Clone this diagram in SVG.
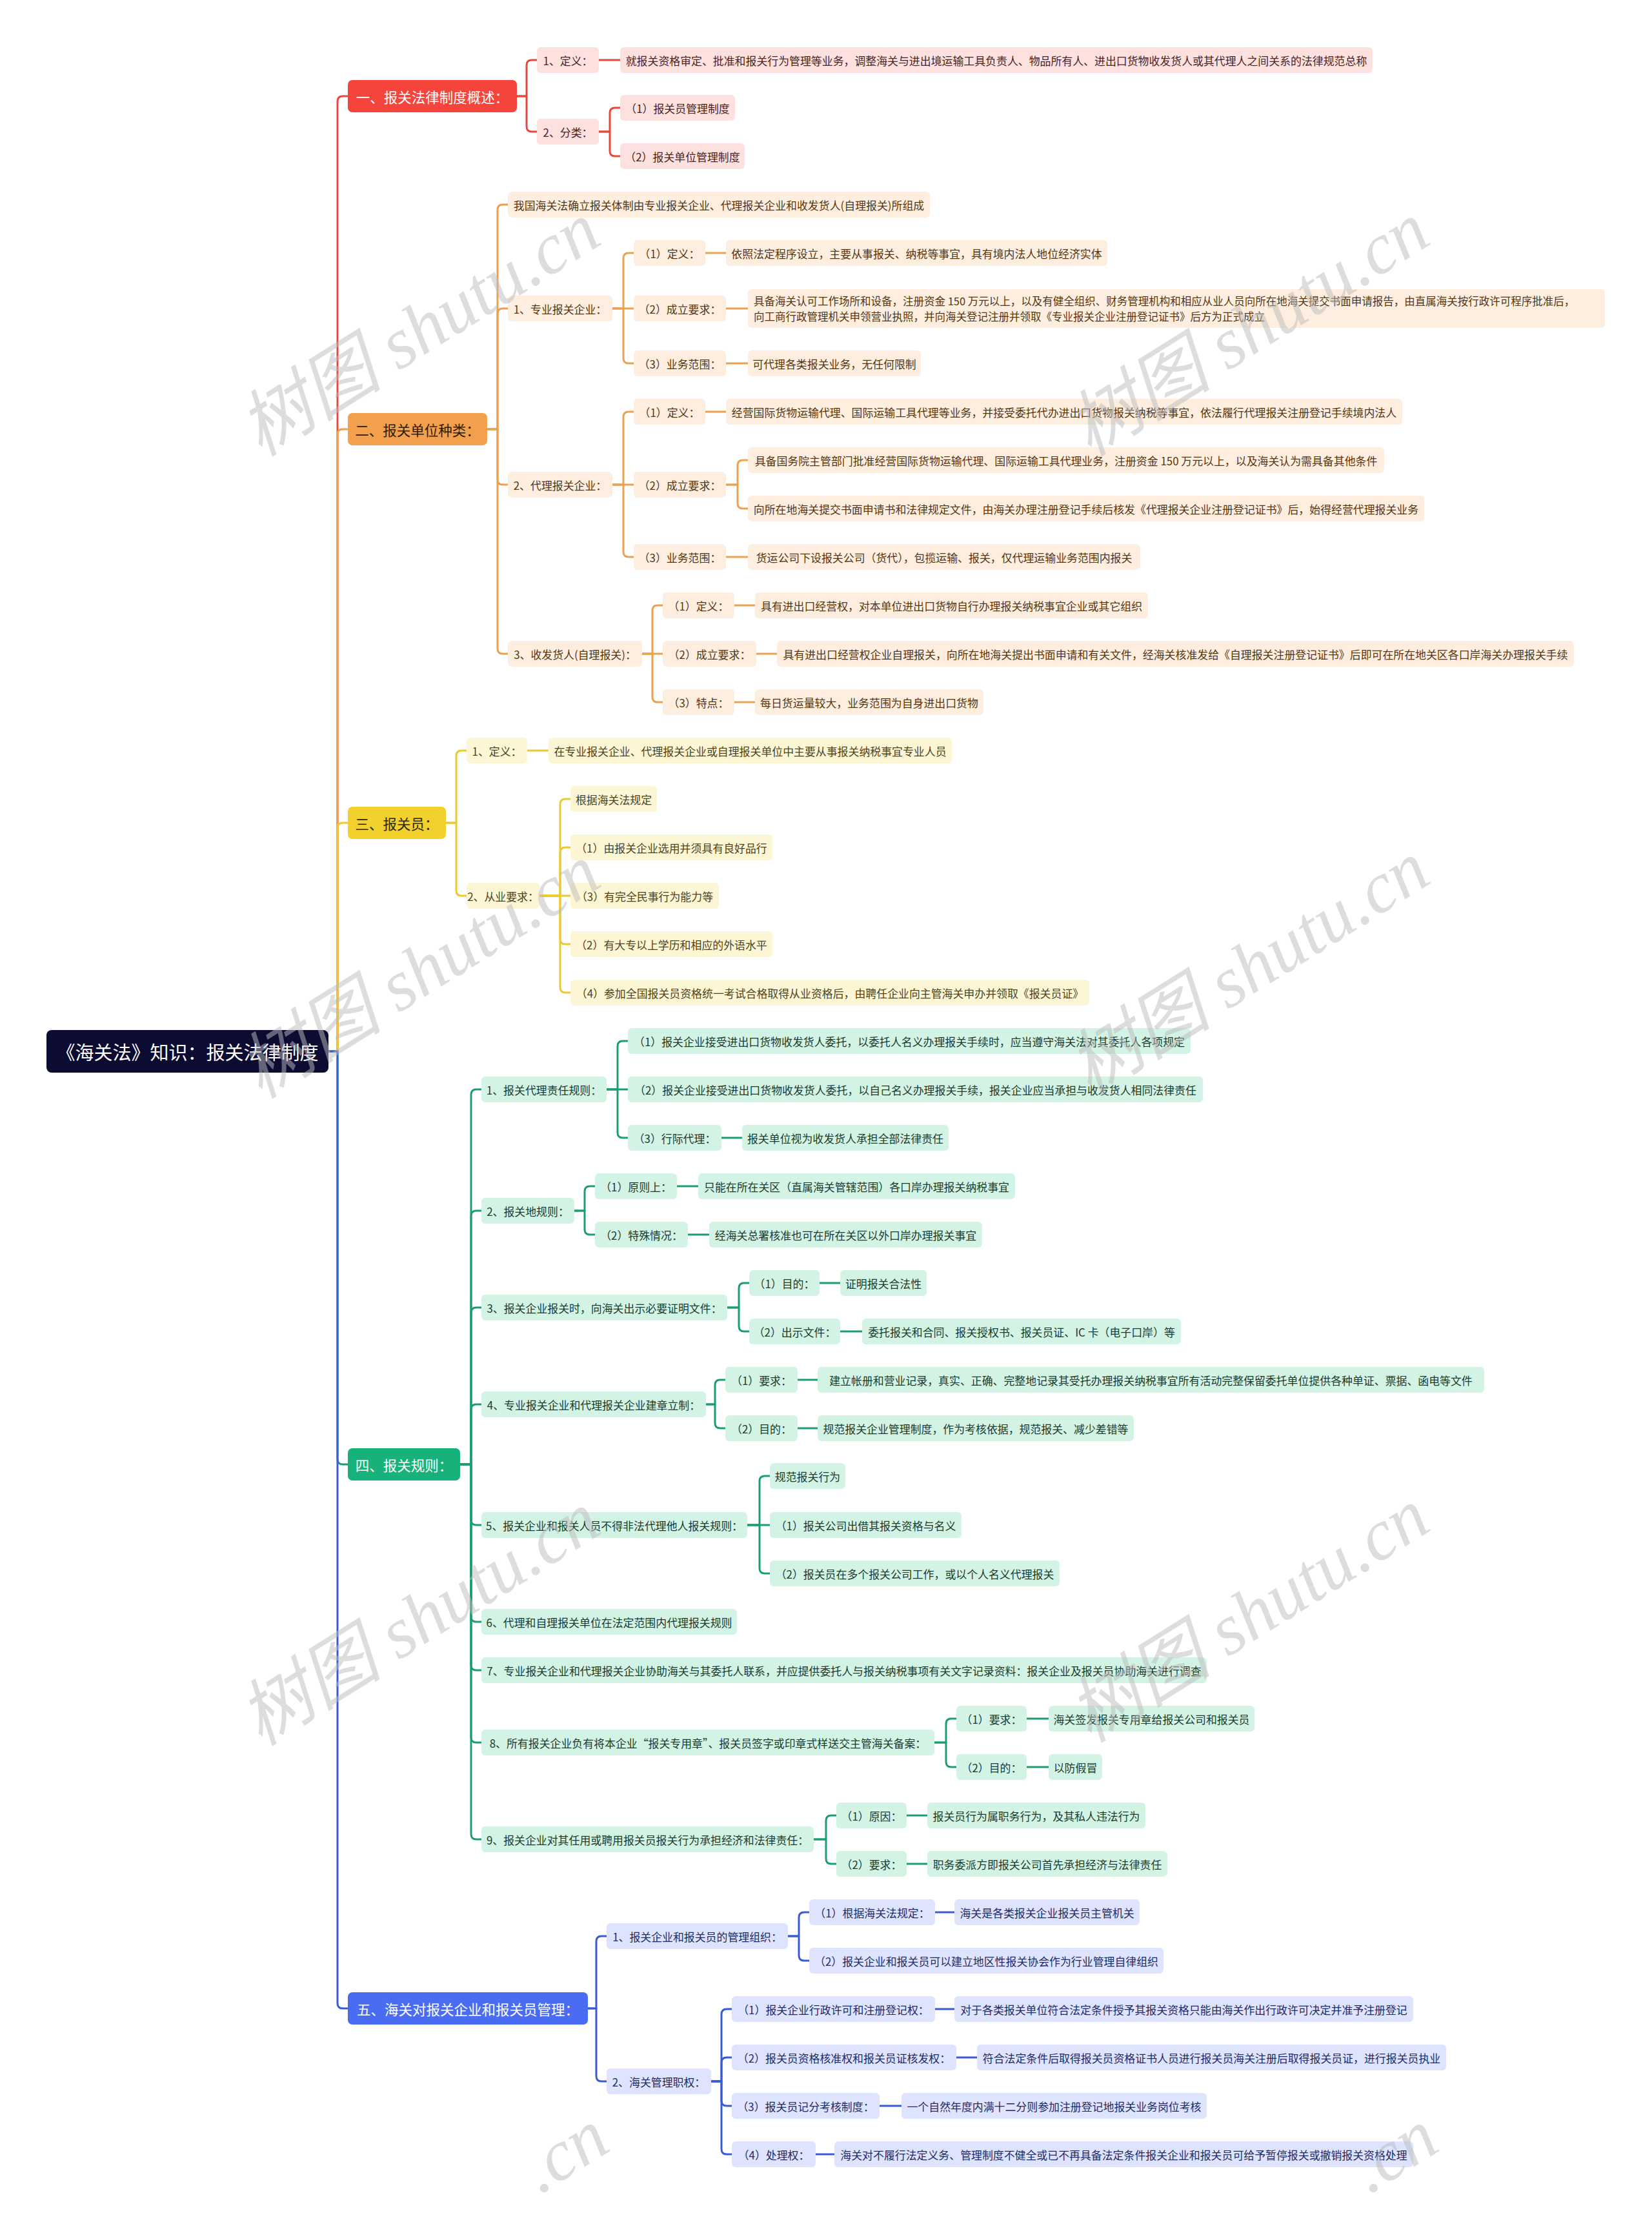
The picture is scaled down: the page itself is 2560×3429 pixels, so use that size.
<svg xmlns="http://www.w3.org/2000/svg" width="2560" height="3429" viewBox="0 0 2560 3429">
<style>
text{font-family:"Noto Sans CJK SC","Noto Sans",sans-serif;dominant-baseline:central;text-anchor:middle}
.t{font-size:16.9px}
.l1{font-size:21.5px}
.root{font-size:29px;fill:#ffffff}
.c{fill:none;stroke-width:3;stroke-linecap:round;stroke-linejoin:round}
.cr{stroke:#e8483e}.co{stroke:#eaa151}.cy{stroke:#ebc92f}.cg{stroke:#1c9f6e}.cb{stroke:#3a5ad6}
.rf{fill:#fde1df}.of{fill:#fdeedf}.yf{fill:#fdf6d5}.gf{fill:#d3f3e5}.bf{fill:#dee4fd}
.rt{fill:#4a2424}.ot{fill:#553612}.yt{fill:#4d431c}.gt{fill:#1b3b2e}.bt{fill:#1f2a66}
.wm{font-size:112px;fill:#bdbdbd;opacity:0.5;font-family:"Liberation Serif","Noto Sans CJK SC",serif;font-style:italic}
</style>
<rect x="0" y="0" width="2560" height="3429" fill="#ffffff"/>

<g id="connectors">
<path class="c cr" d="M509 1629 H523 V157 Q523 149 531 149 H539"/>
<path class="c co" d="M509 1629 H523 V673 Q523 665 531 665 H539"/>
<path class="c cy" d="M509 1629 H523 V1283 Q523 1275 531 1275 H539"/>
<path class="c cg" d="M509 1629 H523 V2261 Q523 2269 531 2269 H539"/>
<path class="c cb" d="M509 1629 H523 V3104 Q523 3112 531 3112 H539"/>

<path class="c cr" d="M801 149 H816 V101 Q816 93 824 93 H832"/>
<path class="c cr" d="M801 149 H816 V196 Q816 204 824 204 H832"/>
<path class="c cr" d="M928 93 H961"/>
<path class="c cr" d="M928 204 H945 V175 Q945 167 953 167 H961"/>
<path class="c cr" d="M928 204 H945 V234 Q945 242 953 242 H961"/>

<path class="c co" d="M755 665 H771 V325 Q771 317 779 317 H787"/>
<path class="c co" d="M755 665 H771 V486 Q771 478 779 478 H787"/>
<path class="c co" d="M755 665 H771 V743 Q771 751 779 751 H787"/>
<path class="c co" d="M755 665 H771 V1005 Q771 1013 779 1013 H787"/>
<path class="c co" d="M949 478 H966 V400 Q966 392 974 392 H982"/>
<path class="c co" d="M949 478 H982"/>
<path class="c co" d="M949 478 H966 V555 Q966 563 974 563 H982"/>
<path class="c co" d="M1093 392 H1125"/>
<path class="c co" d="M1125 478 H1159"/>
<path class="c co" d="M1125 563 H1159"/>
<path class="c co" d="M949 751 H966 V646 Q966 638 974 638 H982"/>
<path class="c co" d="M949 751 H982"/>
<path class="c co" d="M949 751 H966 V855 Q966 863 974 863 H982"/>
<path class="c co" d="M1093 638 H1125"/>
<path class="c co" d="M1125 751 H1143 V721 Q1143 713 1151 713 H1159"/>
<path class="c co" d="M1125 751 H1143 V780 Q1143 788 1151 788 H1159"/>
<path class="c co" d="M1125 863 H1159"/>
<path class="c co" d="M995 1013 H1011 V946 Q1011 938 1019 938 H1027"/>
<path class="c co" d="M995 1013 H1027"/>
<path class="c co" d="M995 1013 H1011 V1080 Q1011 1088 1019 1088 H1027"/>
<path class="c co" d="M1138 938 H1170"/>
<path class="c co" d="M1172 1013 H1204"/>
<path class="c co" d="M1138 1088 H1170"/>

<path class="c cy" d="M691 1275 H707 V1171 Q707 1163 715 1163 H723"/>
<path class="c cy" d="M691 1275 H707 V1380 Q707 1388 715 1388 H723"/>
<path class="c cy" d="M817 1163 H850"/>
<path class="c cy" d="M836 1388 H868 V1246 Q868 1238 876 1238 H884"/>
<path class="c cy" d="M836 1388 H868 V1321 Q868 1313 876 1313 H884"/>
<path class="c cy" d="M836 1388 H884"/>
<path class="c cy" d="M836 1388 H868 V1455 Q868 1463 876 1463 H884"/>
<path class="c cy" d="M836 1388 H868 V1530 Q868 1538 876 1538 H884"/>

<path class="c cg" d="M713 2269 H730 V1696 Q730 1688 738 1688 H746"/>
<path class="c cg" d="M713 2269 H730 V1884 Q730 1876 738 1876 H746"/>
<path class="c cg" d="M713 2269 H730 V2034 Q730 2026 738 2026 H746"/>
<path class="c cg" d="M713 2269 H730 V2184 Q730 2176 738 2176 H746"/>
<path class="c cg" d="M713 2269 H730 V2355 Q730 2363 738 2363 H746"/>
<path class="c cg" d="M713 2269 H730 V2505 Q730 2513 738 2513 H746"/>
<path class="c cg" d="M713 2269 H730 V2580 Q730 2588 738 2588 H746"/>
<path class="c cg" d="M713 2269 H730 V2692 Q730 2700 738 2700 H746"/>
<path class="c cg" d="M713 2269 H730 V2842 Q730 2850 738 2850 H746"/>
<path class="c cg" d="M940 1688 H957 V1621 Q957 1613 965 1613 H973"/>
<path class="c cg" d="M940 1688 H973"/>
<path class="c cg" d="M940 1688 H957 V1755 Q957 1763 965 1763 H973"/>
<path class="c cg" d="M1118 1763 H1150"/>
<path class="c cg" d="M890 1876 H906 V1846 Q906 1838 914 1838 H922"/>
<path class="c cg" d="M890 1876 H906 V1905 Q906 1913 914 1913 H922"/>
<path class="c cg" d="M1049 1838 H1082"/>
<path class="c cg" d="M1066 1913 H1099"/>
<path class="c cg" d="M1127 2026 H1145 V1996 Q1145 1988 1153 1988 H1161"/>
<path class="c cg" d="M1127 2026 H1145 V2055 Q1145 2063 1153 2063 H1161"/>
<path class="c cg" d="M1270 1988 H1302"/>
<path class="c cg" d="M1302 2063 H1336"/>
<path class="c cg" d="M1094 2176 H1108 V2146 Q1108 2138 1116 2138 H1124"/>
<path class="c cg" d="M1094 2176 H1108 V2205 Q1108 2213 1116 2213 H1124"/>
<path class="c cg" d="M1236 2138 H1267"/>
<path class="c cg" d="M1236 2213 H1267"/>
<path class="c cg" d="M1158 2363 H1177 V2295 Q1177 2287 1185 2287 H1193"/>
<path class="c cg" d="M1158 2363 H1193"/>
<path class="c cg" d="M1158 2363 H1177 V2430 Q1177 2438 1185 2438 H1193"/>
<path class="c cg" d="M1448 2700 H1466 V2671 Q1466 2663 1474 2663 H1482"/>
<path class="c cg" d="M1448 2700 H1466 V2730 Q1466 2738 1474 2738 H1482"/>
<path class="c cg" d="M1591 2663 H1625"/>
<path class="c cg" d="M1591 2738 H1625"/>
<path class="c cg" d="M1261 2850 H1280 V2821 Q1280 2813 1288 2813 H1296"/>
<path class="c cg" d="M1261 2850 H1280 V2880 Q1280 2888 1288 2888 H1296"/>
<path class="c cg" d="M1405 2813 H1437"/>
<path class="c cg" d="M1405 2888 H1437"/>

<path class="c cb" d="M911 3112 H924 V3008 Q924 3000 932 3000 H940"/>
<path class="c cb" d="M911 3112 H924 V3217 Q924 3225 932 3225 H940"/>
<path class="c cb" d="M1221 3000 H1238 V2971 Q1238 2963 1246 2963 H1254"/>
<path class="c cb" d="M1221 3000 H1238 V3030 Q1238 3038 1246 3038 H1254"/>
<path class="c cb" d="M1449 2963 H1479"/>
<path class="c cb" d="M1102 3225 H1118 V3121 Q1118 3113 1126 3113 H1134"/>
<path class="c cb" d="M1102 3225 H1118 V3196 Q1118 3188 1126 3188 H1134"/>
<path class="c cb" d="M1102 3225 H1118 V3255 Q1118 3263 1126 3263 H1134"/>
<path class="c cb" d="M1102 3225 H1118 V3330 Q1118 3338 1126 3338 H1134"/>
<path class="c cb" d="M1449 3113 H1479"/>
<path class="c cb" d="M1482 3188 H1514"/>
<path class="c cb" d="M1363 3263 H1397"/>
<path class="c cb" d="M1264 3338 H1293"/>
</g>

<g id="root"><rect x="72" y="1596" width="437" height="66" rx="8" fill="#0c0b32"/><text class="root" x="290.5" y="1629">《海关法》知识：报关法律制度</text></g>

<g id="R1"><rect x="539" y="124" width="262" height="50" rx="7" fill="#f4443c"/><text class="l1" x="670" y="149" fill="#ffffff">一、报关法律制度概述：</text></g>
<g id="R2"><rect x="539" y="640" width="216" height="50" rx="7" fill="#f2a04b"/><text class="l1" x="647" y="665" fill="#2e1c08">二、报关单位种类：</text></g>
<g id="R3"><rect x="539" y="1250" width="152" height="50" rx="7" fill="#f3d12c"/><text class="l1" x="615" y="1275" fill="#2e2708">三、报关员：</text></g>
<g id="R4"><rect x="539" y="2244" width="174" height="50" rx="7" fill="#17b27a"/><text class="l1" x="626" y="2269" fill="#ffffff">四、报关规则：</text></g>
<g id="R5"><rect x="539" y="3087" width="372" height="50" rx="7" fill="#4a6cf3"/><text class="l1" x="725" y="3112" fill="#ffffff">五、海关对报关企业和报关员管理：</text></g>

<g id="A1"><rect class="rf" x="832" y="73" width="96" height="40" rx="6"/><text class="t rt" x="880" y="93">1、定义：</text></g>
<g id="A1t"><rect class="rf" x="961" y="73" width="1166" height="40" rx="6"/><text class="t rt" x="1544" y="93">就报关资格审定、批准和报关行为管理等业务，调整海关与进出境运输工具负责人、物品所有人、进出口货物收发货人或其代理人之间关系的法律规范总称</text></g>
<g id="A2"><rect class="rf" x="832" y="184" width="96" height="40" rx="6"/><text class="t rt" x="880" y="204">2、分类：</text></g>
<g id="A2a"><rect class="rf" x="961" y="147" width="178" height="40" rx="6"/><text class="t rt" x="1050" y="167">（1）报关员管理制度</text></g>
<g id="A2b"><rect class="rf" x="961" y="222" width="193" height="40" rx="6"/><text class="t rt" x="1057.5" y="242">（2）报关单位管理制度</text></g>

<g id="B0"><rect class="of" x="787" y="297" width="654" height="40" rx="6"/><text class="t ot" x="1114" y="317">我国海关法确立报关体制由专业报关企业、代理报关企业和收发货人(自理报关)所组成</text></g>
<g id="B1"><rect class="of" x="787" y="458" width="162" height="40" rx="6"/><text class="t ot" x="868" y="478">1、专业报关企业：</text></g>
<g id="B1a"><rect class="of" x="982" y="372" width="111" height="40" rx="6"/><text class="t ot" x="1037.5" y="392">（1）定义：</text></g>
<g id="B1at"><rect class="of" x="1125" y="372" width="591" height="40" rx="6"/><text class="t ot" x="1420.5" y="392">依照法定程序设立，主要从事报关、纳税等事宜，具有境内法人地位经济实体</text></g>
<g id="B1b"><rect class="of" x="982" y="458" width="143" height="40" rx="6"/><text class="t ot" x="1053.5" y="478">（2）成立要求：</text></g>
<g id="B1bt"><rect class="of" x="1159" y="448" width="1328" height="60" rx="6"/><text class="ot" style="font-size:16.5px;text-anchor:start" x="1168" y="466">具备海关认可工作场所和设备，注册资金 150 万元以上，以及有健全组织、财务管理机构和相应从业人员向所在地海关提交书面申请报告，由直属海关按行政许可程序批准后，</text><text class="ot" style="font-size:16.5px;text-anchor:start" x="1168" y="490">向工商行政管理机关申领营业执照，并向海关登记注册并领取《专业报关企业注册登记证书》后方为正式成立</text></g>
<g id="B1c"><rect class="of" x="982" y="543" width="143" height="40" rx="6"/><text class="t ot" x="1053.5" y="563">（3）业务范围：</text></g>
<g id="B1ct"><rect class="of" x="1159" y="543" width="268" height="40" rx="6"/><text class="t ot" x="1293" y="563">可代理各类报关业务，无任何限制</text></g>
<g id="B2"><rect class="of" x="787" y="731" width="162" height="40" rx="6"/><text class="t ot" x="868" y="751">2、代理报关企业：</text></g>
<g id="B2a"><rect class="of" x="982" y="618" width="111" height="40" rx="6"/><text class="t ot" x="1037.5" y="638">（1）定义：</text></g>
<g id="B2at"><rect class="of" x="1125" y="618" width="1048" height="40" rx="6"/><text class="t ot" x="1649" y="638">经营国际货物运输代理、国际运输工具代理等业务，并接受委托代办进出口货物报关纳税等事宜，依法履行代理报关注册登记手续境内法人</text></g>
<g id="B2b"><rect class="of" x="982" y="731" width="143" height="40" rx="6"/><text class="t ot" x="1053.5" y="751">（2）成立要求：</text></g>
<g id="B2b1"><rect class="of" x="1159" y="693" width="986" height="40" rx="6"/><text class="t ot" x="1652" y="713">具备国务院主管部门批准经营国际货物运输代理、国际运输工具代理业务，注册资金 150 万元以上，以及海关认为需具备其他条件</text></g>
<g id="B2b2"><rect class="of" x="1159" y="768" width="1048" height="40" rx="6"/><text class="t ot" x="1683" y="788">向所在地海关提交书面申请书和法律规定文件，由海关办理注册登记手续后核发《代理报关企业注册登记证书》后，始得经营代理报关业务</text></g>
<g id="B2c"><rect class="of" x="982" y="843" width="143" height="40" rx="6"/><text class="t ot" x="1053.5" y="863">（3）业务范围：</text></g>
<g id="B2ct"><rect class="of" x="1159" y="843" width="608" height="40" rx="6"/><text class="t ot" x="1463" y="863">货运公司下设报关公司（货代），包揽运输、报关，仅代理运输业务范围内报关</text></g>
<g id="B3"><rect class="of" x="787" y="993" width="208" height="40" rx="6"/><text class="t ot" x="891" y="1013">3、收发货人(自理报关)：</text></g>
<g id="B3a"><rect class="of" x="1027" y="918" width="111" height="40" rx="6"/><text class="t ot" x="1082.5" y="938">（1）定义：</text></g>
<g id="B3at"><rect class="of" x="1170" y="918" width="609" height="40" rx="6"/><text class="t ot" x="1474.5" y="938">具有进出口经营权，对本单位进出口货物自行办理报关纳税事宜企业或其它组织</text></g>
<g id="B3b"><rect class="of" x="1027" y="993" width="145" height="40" rx="6"/><text class="t ot" x="1099.5" y="1013">（2）成立要求：</text></g>
<g id="B3bt"><rect class="of" x="1204" y="993" width="1235" height="40" rx="6"/><text class="t ot" x="1821.5" y="1013">具有进出口经营权企业自理报关，向所在地海关提出书面申请和有关文件，经海关核准发给《自理报关注册登记证书》后即可在所在地关区各口岸海关办理报关手续</text></g>
<g id="B3c"><rect class="of" x="1027" y="1068" width="111" height="40" rx="6"/><text class="t ot" x="1082.5" y="1088">（3）特点：</text></g>
<g id="B3ct"><rect class="of" x="1170" y="1068" width="354" height="40" rx="6"/><text class="t ot" x="1347" y="1088">每日货运量较大，业务范围为自身进出口货物</text></g>

<g id="C1"><rect class="yf" x="723" y="1143" width="94" height="40" rx="6"/><text class="t yt" x="770" y="1163">1、定义：</text></g>
<g id="C1t"><rect class="yf" x="850" y="1143" width="625" height="40" rx="6"/><text class="t yt" x="1162.5" y="1163">在专业报关企业、代理报关企业或自理报关单位中主要从事报关纳税事宜专业人员</text></g>
<g id="C2"><rect class="yf" x="723" y="1368" width="113" height="40" rx="6"/><text class="t yt" x="779.5" y="1388">2、从业要求：</text></g>
<g id="C2a"><rect class="yf" x="884" y="1218" width="134" height="40" rx="6"/><text class="t yt" x="951" y="1238">根据海关法规定</text></g>
<g id="C2b"><rect class="yf" x="884" y="1293" width="313" height="40" rx="6"/><text class="t yt" x="1040.5" y="1313">（1）由报关企业选用并须具有良好品行</text></g>
<g id="C2c"><rect class="yf" x="884" y="1368" width="230" height="40" rx="6"/><text class="t yt" x="999" y="1388">（3）有完全民事行为能力等</text></g>
<g id="C2d"><rect class="yf" x="884" y="1443" width="313" height="40" rx="6"/><text class="t yt" x="1040.5" y="1463">（2）有大专以上学历和相应的外语水平</text></g>
<g id="C2e"><rect class="yf" x="884" y="1518" width="804" height="40" rx="6"/><text class="t yt" x="1286" y="1538">（4）参加全国报关员资格统一考试合格取得从业资格后，由聘任企业向主管海关申办并领取《报关员证》</text></g>

<g id="D1"><rect class="gf" x="746" y="1668" width="194" height="40" rx="6"/><text class="t gt" x="843" y="1688">1、报关代理责任规则：</text></g>
<g id="D1a"><rect class="gf" x="973" y="1593" width="872" height="40" rx="6"/><text class="t gt" x="1409" y="1613">（1）报关企业接受进出口货物收发货人委托，以委托人名义办理报关手续时，应当遵守海关法对其委托人各项规定</text></g>
<g id="D1b"><rect class="gf" x="973" y="1668" width="891" height="40" rx="6"/><text class="t gt" x="1418.5" y="1688">（2）报关企业接受进出口货物收发货人委托，以自己名义办理报关手续，报关企业应当承担与收发货人相同法律责任</text></g>
<g id="D1c"><rect class="gf" x="973" y="1743" width="145" height="40" rx="6"/><text class="t gt" x="1045.5" y="1763">（3）行际代理：</text></g>
<g id="D1ct"><rect class="gf" x="1150" y="1743" width="320" height="40" rx="6"/><text class="t gt" x="1310" y="1763">报关单位视为收发货人承担全部法律责任</text></g>
<g id="D2"><rect class="gf" x="746" y="1856" width="144" height="40" rx="6"/><text class="t gt" x="818" y="1876">2、报关地规则：</text></g>
<g id="D2a"><rect class="gf" x="922" y="1818" width="127" height="40" rx="6"/><text class="t gt" x="985.5" y="1838">（1）原则上：</text></g>
<g id="D2at"><rect class="gf" x="1082" y="1818" width="491" height="40" rx="6"/><text class="t gt" x="1327.5" y="1838">只能在所在关区（直属海关管辖范围）各口岸办理报关纳税事宜</text></g>
<g id="D2b"><rect class="gf" x="922" y="1893" width="144" height="40" rx="6"/><text class="t gt" x="994" y="1913">（2）特殊情况：</text></g>
<g id="D2bt"><rect class="gf" x="1099" y="1893" width="423" height="40" rx="6"/><text class="t gt" x="1310.5" y="1913">经海关总署核准也可在所在关区以外口岸办理报关事宜</text></g>
<g id="D3"><rect class="gf" x="746" y="2006" width="381" height="40" rx="6"/><text class="t gt" x="936.5" y="2026">3、报关企业报关时，向海关出示必要证明文件：</text></g>
<g id="D3a"><rect class="gf" x="1161" y="1968" width="109" height="40" rx="6"/><text class="t gt" x="1215.5" y="1988">（1）目的：</text></g>
<g id="D3at"><rect class="gf" x="1302" y="1968" width="134" height="40" rx="6"/><text class="t gt" x="1369" y="1988">证明报关合法性</text></g>
<g id="D3b"><rect class="gf" x="1161" y="2043" width="141" height="40" rx="6"/><text class="t gt" x="1231.5" y="2063">（2）出示文件：</text></g>
<g id="D3bt"><rect class="gf" x="1336" y="2043" width="494" height="40" rx="6"/><text class="t gt" x="1583" y="2063">委托报关和合同、报关授权书、报关员证、IC 卡（电子口岸）等</text></g>
<g id="D4"><rect class="gf" x="746" y="2156" width="348" height="40" rx="6"/><text class="t gt" x="920" y="2176">4、专业报关企业和代理报关企业建章立制：</text></g>
<g id="D4a"><rect class="gf" x="1124" y="2118" width="112" height="40" rx="6"/><text class="t gt" x="1180" y="2138">（1）要求：</text></g>
<g id="D4at"><rect class="gf" x="1267" y="2118" width="1033" height="40" rx="6"/><text class="t gt" x="1783.5" y="2138">建立帐册和营业记录，真实、正确、完整地记录其受托办理报关纳税事宜所有活动完整保留委托单位提供各种单证、票据、函电等文件</text></g>
<g id="D4b"><rect class="gf" x="1124" y="2193" width="112" height="40" rx="6"/><text class="t gt" x="1180" y="2213">（2）目的：</text></g>
<g id="D4bt"><rect class="gf" x="1267" y="2193" width="490" height="40" rx="6"/><text class="t gt" x="1512" y="2213">规范报关企业管理制度，作为考核依据，规范报关、减少差错等</text></g>
<g id="D5"><rect class="gf" x="746" y="2343" width="412" height="40" rx="6"/><text class="t gt" x="952" y="2363">5、报关企业和报关人员不得非法代理他人报关规则：</text></g>
<g id="D5a"><rect class="gf" x="1193" y="2267" width="117" height="40" rx="6"/><text class="t gt" x="1251.5" y="2287">规范报关行为</text></g>
<g id="D5b"><rect class="gf" x="1193" y="2343" width="297" height="40" rx="6"/><text class="t gt" x="1341.5" y="2363">（1）报关公司出借其报关资格与名义</text></g>
<g id="D5c"><rect class="gf" x="1193" y="2418" width="449" height="40" rx="6"/><text class="t gt" x="1417.5" y="2438">（2）报关员在多个报关公司工作，或以个人名义代理报关</text></g>
<g id="D6"><rect class="gf" x="746" y="2493" width="396" height="40" rx="6"/><text class="t gt" x="944" y="2513">6、代理和自理报关单位在法定范围内代理报关规则</text></g>
<g id="D7"><rect class="gf" x="746" y="2568" width="1124" height="40" rx="6"/><text class="t gt" x="1308" y="2588">7、专业报关企业和代理报关企业协助海关与其委托人联系，并应提供委托人与报关纳税事项有关文字记录资料：报关企业及报关员协助海关进行调查</text></g>
<g id="D8"><rect class="gf" x="746" y="2680" width="702" height="40" rx="6"/><text class="t gt" x="1097" y="2700">8、所有报关企业负有将本企业“报关专用章”、报关员签字或印章式样送交主管海关备案：</text></g>
<g id="D8a"><rect class="gf" x="1482" y="2643" width="109" height="40" rx="6"/><text class="t gt" x="1536.5" y="2663">（1）要求：</text></g>
<g id="D8at"><rect class="gf" x="1625" y="2643" width="319" height="40" rx="6"/><text class="t gt" x="1784.5" y="2663">海关签发报关专用章给报关公司和报关员</text></g>
<g id="D8b"><rect class="gf" x="1482" y="2718" width="109" height="40" rx="6"/><text class="t gt" x="1536.5" y="2738">（2）目的：</text></g>
<g id="D8bt"><rect class="gf" x="1625" y="2718" width="83" height="40" rx="6"/><text class="t gt" x="1666.5" y="2738">以防假冒</text></g>
<g id="D9"><rect class="gf" x="746" y="2830" width="515" height="40" rx="6"/><text class="t gt" x="1003.5" y="2850">9、报关企业对其任用或聘用报关员报关行为承担经济和法律责任：</text></g>
<g id="D9a"><rect class="gf" x="1296" y="2793" width="109" height="40" rx="6"/><text class="t gt" x="1350.5" y="2813">（1）原因：</text></g>
<g id="D9at"><rect class="gf" x="1437" y="2793" width="338" height="40" rx="6"/><text class="t gt" x="1606" y="2813">报关员行为属职务行为，及其私人违法行为</text></g>
<g id="D9b"><rect class="gf" x="1296" y="2868" width="109" height="40" rx="6"/><text class="t gt" x="1350.5" y="2888">（2）要求：</text></g>
<g id="D9bt"><rect class="gf" x="1437" y="2868" width="372" height="40" rx="6"/><text class="t gt" x="1623" y="2888">职务委派方即报关公司首先承担经济与法律责任</text></g>

<g id="E1"><rect class="bf" x="940" y="2980" width="281" height="40" rx="6"/><text class="t bt" x="1080.5" y="3000">1、报关企业和报关员的管理组织：</text></g>
<g id="E1a"><rect class="bf" x="1254" y="2943" width="195" height="40" rx="6"/><text class="t bt" x="1351.5" y="2963">（1）根据海关法规定：</text></g>
<g id="E1at"><rect class="bf" x="1479" y="2943" width="287" height="40" rx="6"/><text class="t bt" x="1622.5" y="2963">海关是各类报关企业报关员主管机关</text></g>
<g id="E1b"><rect class="bf" x="1254" y="3018" width="549" height="40" rx="6"/><text class="t bt" x="1528.5" y="3038">（2）报关企业和报关员可以建立地区性报关协会作为行业管理自律组织</text></g>
<g id="E2"><rect class="bf" x="940" y="3205" width="162" height="40" rx="6"/><text class="t bt" x="1021" y="3225">2、海关管理职权：</text></g>
<g id="E2a"><rect class="bf" x="1134" y="3093" width="315" height="40" rx="6"/><text class="t bt" x="1291.5" y="3113">（1）报关企业行政许可和注册登记权：</text></g>
<g id="E2at"><rect class="bf" x="1479" y="3093" width="711" height="40" rx="6"/><text class="t bt" x="1834.5" y="3113">对于各类报关单位符合法定条件授予其报关资格只能由海关作出行政许可决定并准予注册登记</text></g>
<g id="E2b"><rect class="bf" x="1134" y="3168" width="348" height="40" rx="6"/><text class="t bt" x="1308" y="3188">（2）报关员资格核准权和报关员证核发权：</text></g>
<g id="E2bt"><rect class="bf" x="1514" y="3168" width="727" height="40" rx="6"/><text class="t bt" x="1877.5" y="3188">符合法定条件后取得报关员资格证书人员进行报关员海关注册后取得报关员证，进行报关员执业</text></g>
<g id="E2c"><rect class="bf" x="1134" y="3243" width="229" height="40" rx="6"/><text class="t bt" x="1248.5" y="3263">（3）报关员记分考核制度：</text></g>
<g id="E2ct"><rect class="bf" x="1397" y="3243" width="473" height="40" rx="6"/><text class="t bt" x="1633.5" y="3263">一个自然年度内满十二分则参加注册登记地报关业务岗位考核</text></g>
<g id="E2d"><rect class="bf" x="1134" y="3318" width="130" height="40" rx="6"/><text class="t bt" x="1199" y="3338">（4）处理权：</text></g>
<g id="E2dt"><rect class="bf" x="1293" y="3318" width="897" height="40" rx="6"/><text class="t bt" x="1741.5" y="3338">海关对不履行法定义务、管理制度不健全或已不再具备法定条件报关企业和报关员可给予暂停报关或撤销报关资格处理</text></g>

<g id="watermarks">
<text class="wm" transform="translate(650 510) rotate(-32)">树图 shutu.cn</text>
<text class="wm" transform="translate(1935 510) rotate(-32)">树图 shutu.cn</text>
<text class="wm" transform="translate(650 1505) rotate(-32)">树图 shutu.cn</text>
<text class="wm" transform="translate(1935 1500) rotate(-32)">树图 shutu.cn</text>
<text class="wm" transform="translate(650 2508) rotate(-32)">树图 shutu.cn</text>
<text class="wm" transform="translate(1935 2503) rotate(-32)">树图 shutu.cn</text>
<text class="wm" style="text-anchor:end;dominant-baseline:auto" transform="translate(950 3330) rotate(-32)">.cn</text>
<text class="wm" style="text-anchor:end;dominant-baseline:auto" transform="translate(2235 3330) rotate(-32)">.cn</text>
</g>
</svg>
